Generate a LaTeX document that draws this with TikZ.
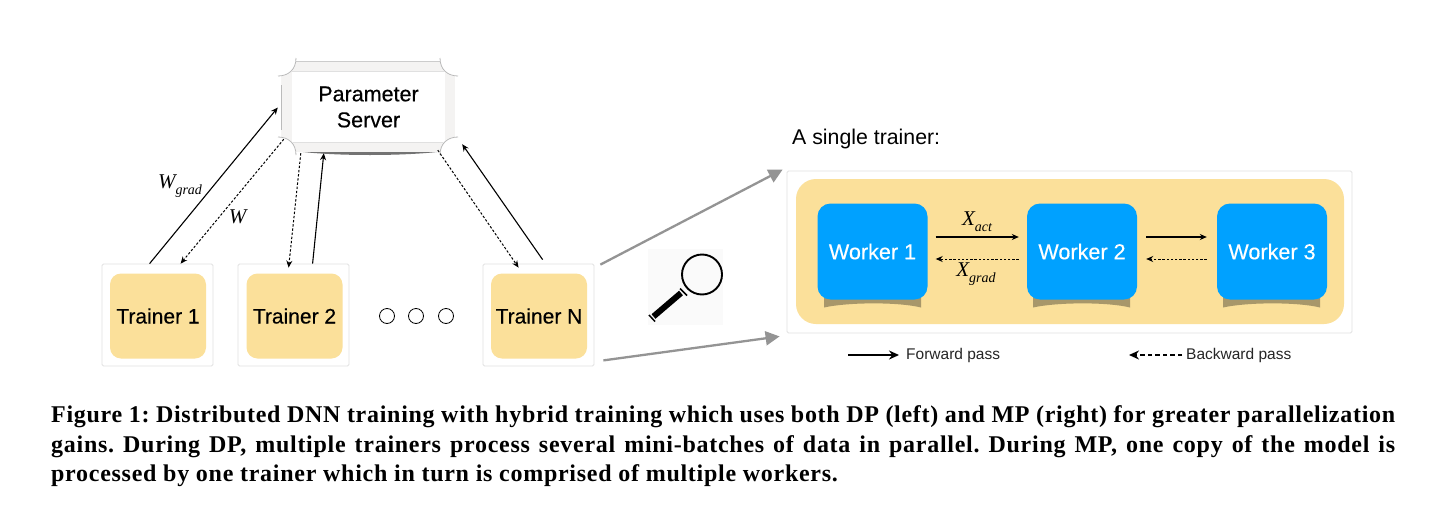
\documentclass[tikz,border=0pt]{standalone}
\usepackage{fontspec}
\setmainfont{Liberation Serif}
\newfontfamily\hv{Liberation Sans}
\newfontfamily\hvb[FakeBold=0.35]{Liberation Sans}
\newfontfamily\capf[LetterSpace=3,BoldFeatures={LetterSpace=3}]{Liberation Serif}
\usetikzlibrary{arrows.meta}
\definecolor{cream}{HTML}{FBE09A}
\definecolor{cyanb}{HTML}{00A1FF}
\definecolor{edgeg}{HTML}{E2E2E2}
\definecolor{bandg}{HTML}{F4F3F2}
\definecolor{shadowc}{HTML}{A8976A}
\newcommand{\symsub}[3]{\textit{\fontsize{#3}{#3}\selectfont #1\raisebox{-0.28em}{\fontsize{14}{14}\selectfont #2}}}
\tikzset{
 x=1pt,y=-1pt,
 outerbox/.style={draw=edgeg,fill=white,line width=0.8pt,rounded corners=1.5pt,minimum width=111pt,minimum height=102pt,inner sep=0pt},
 trainerbox/.style={fill=cream,rounded corners=11pt,minimum width=96pt,minimum height=85pt,inner sep=0pt,font=\hvb\fontsize{21}{24}\selectfont,text=black},
 workerbox/.style={fill=cyanb,rounded corners=13pt,minimum width=110pt,minimum height=96pt,inner sep=0pt,font=\hvb\fontsize{21.6}{24}\selectfont,text=white},
 solidarrow/.style={-{Stealth[length=7pt,width=6pt]},line width=1.1pt,black},
 dotarrow/.style={-{Stealth[length=7pt,width=6pt]},line width=1pt,black,dash pattern=on 2.4pt off 1.8pt},
 greyarrow/.style={-{Triangle[length=14pt,width=14pt]},line width=2.3pt,color=black!42},
 dotcircle/.style={circle,draw=black,line width=0.8pt,minimum size=15pt,inner sep=0pt},
 labeltext/.style={inner sep=0pt,text=black},
 legendtext/.style={inner sep=0pt,anchor=west,font=\hv\fontsize{15.5}{18}\selectfont,text=black!85},
}
\begin{document}
\begin{tikzpicture}
\useasboundingbox (0,0) rectangle (1444,525);
\fill[white] (0,0) rectangle (1444,525);
% parameter server frame
\fill[bandg] (281,61) rectangle (455,152);
\fill[white] (292,71) rectangle (445,142);
\draw[black!12,line width=0.7pt] (292,71) -- (445,71) (292,142) -- (445,142);
\draw[black!20,line width=0.7pt] (296,61.5) -- (441,61.5);
\draw[black!30,line width=1pt] (281,85) -- (281,130) (455,85) -- (455,130);
\fill[black!55] (303,152) .. controls (340,156) and (400,156) .. (437,152) -- cycle;
\foreach \cx/\cy in {281/61,455/61,281/152,455/152}{
 \fill[white] (\cx,\cy) circle (15);
}
\fill[white] (265,45) rectangle (281,168) (455,45) rectangle (471,168);
\draw[black!28,line width=0.8pt]
 (278,76) .. controls (288,76) and (296,70) .. (296,58)
 (458,76) .. controls (448,76) and (440,70) .. (440,58)
 (278,137) .. controls (288,137) and (296,143) .. (296,155)
 (458,137) .. controls (448,137) and (440,143) .. (440,155);
\node[labeltext,align=center,font=\hvb\fontsize{21.5}{26}\selectfont] (ps) at (368.5,107) {Parameter\\Server};
\node[minimum width=174pt,minimum height=91pt,inner sep=0pt] (psf) at (368,107.5) {};
% trainers
\node[outerbox] (o1) at (157.5,315) {};
\node[outerbox] (o2) at (293.5,315) {};
\node[outerbox] (on) at (538.5,315) {};
\node[trainerbox] (t1) at (158,316) {Trainer 1};
\node[trainerbox] (t2) at (294.5,316) {Trainer 2};
\node[trainerbox] (tn) at (539,316) {Trainer N};
\node[dotcircle] (c1) at (387,316) {};
\node[dotcircle] (c2) at (416,316) {};
\node[dotcircle] (c3) at (446,316) {};
% DP connectors
\draw[solidarrow] ([xshift=48pt]o1.north west) -- ([xshift=-3pt]psf.west);
\draw[dotarrow] ([xshift=3pt,yshift=14pt]psf.south west) -- ([xshift=79pt]o1.north west);
\draw[dotarrow] ([xshift=20pt]psf.south west) -- ([xshift=51pt,yshift=-4pt]o2.north west);
\draw[solidarrow] ([xshift=75pt]o2.north west) -- ([xshift=43pt]psf.south west);
\draw[dotarrow] ([xshift=157pt,yshift=3pt]psf.south west) -- ([xshift=36pt,yshift=-4pt]on.north west);
\draw[solidarrow] ([xshift=60pt,yshift=4pt]on.north west) -- ([xshift=7pt,yshift=9pt]psf.south east);
\node[labeltext] (lwg) at (180,186) {\symsub{W}{grad}{21}};
\node[labeltext] (lw) at (238.5,217) {\textit{\fontsize{21}{21}\selectfont W}};
% right panel
\node[labeltext,anchor=west,font=\hv\fontsize{21.3}{24}\selectfont] (st) at (792,139) {A single trainer:};
\node[draw=edgeg,fill=white,line width=0.8pt,rounded corners=1.5pt,minimum width=565pt,minimum height=162pt,inner sep=0pt] (panel) at (1069.5,252) {};
\node[fill=cream,rounded corners=20pt,minimum width=548pt,minimum height=145pt,inner sep=0pt] (inner) at (1070,251.5) {};
% worker shadows
\foreach \xx in {824,1033,1223}{
 \fill[shadowc] (\xx,296) -- (\xx+97,296) -- (\xx+97,307.5) .. controls (\xx+75,302) and (\xx+25,302) .. (\xx,307.5) -- cycle;
}
\node[workerbox] (w1) at (872.5,251.5) {Worker 1};
\node[workerbox] (w2) at (1082,251.5) {Worker 2};
\node[workerbox] (w3) at (1272,251.5) {Worker 3};
\draw[solidarrow] ([xshift=8pt,yshift=14.5pt]w1.east) -- ([xshift=-8pt,yshift=14.5pt]w2.west);
\draw[solidarrow] ([xshift=9pt,yshift=14.5pt]w2.east) -- ([xshift=-10pt,yshift=14.5pt]w3.west);
\draw[dotarrow] ([xshift=-8pt,yshift=-7.5pt]w2.west) -- ([xshift=8pt,yshift=-7.5pt]w1.east);
\draw[dotarrow] ([xshift=-10pt,yshift=-7.5pt]w3.west) -- ([xshift=9pt,yshift=-7.5pt]w2.east);
\node[labeltext] (lxa) at (977,222) {\symsub{X}{act}{21}};
\node[labeltext] (lxg) at (976,274) {\symsub{X}{grad}{21}};
% zoom arrows
\draw[greyarrow] ([xshift=6pt,yshift=-1pt]on.north east) -- ([xshift=-4pt,yshift=1pt]panel.north west);
\draw[greyarrow] ([xshift=9pt,yshift=6pt]on.south east) -- ([xshift=-7pt,yshift=-3pt]panel.south west);
% magnifier
\fill[black!2] (648,249) rectangle (723,325);
\draw[black,line width=1.9pt] (702,274.5) circle (20);
\draw[black,line width=1.7pt] (680,288.5) -- (687,295.5);
\draw[black,line width=6pt] (681,293) -- (653.5,316.5);
\draw[black,line width=1.5pt] (649,315) -- (655,321.5);
% legend
\coordinate (fa) at (848,355);
\coordinate (fb) at (899,355);
\coordinate (ba) at (1182,355);
\coordinate (bb) at (1129,355);
\draw[-{Stealth[length=10pt,width=9pt]},line width=2pt,black] (fa) -- (fb);
\draw[-{Stealth[length=10pt,width=9pt]},line width=2pt,black,dash pattern=on 4.5pt off 3pt] (ba) -- (bb);
\node[legendtext] (lf) at (906,355) {Forward pass};
\node[legendtext] (lb) at (1186,355) {Backward pass};
% caption
\node[inner sep=0pt,anchor=north west,text=black] (cap) at (51,405.5) {\parbox{1344pt}{\capf\fontsize{24}{29.5}\selectfont\bfseries\frenchspacing Figure 1: Distributed DNN training with hybrid training which uses both DP (left) and MP (right) for greater parallelization\linebreak gains. During DP, multiple trainers process several mini-batches of data in parallel. During MP, one copy of the model is\linebreak processed by one trainer which in turn is comprised of multiple workers.}};
\end{tikzpicture}
\end{document}
